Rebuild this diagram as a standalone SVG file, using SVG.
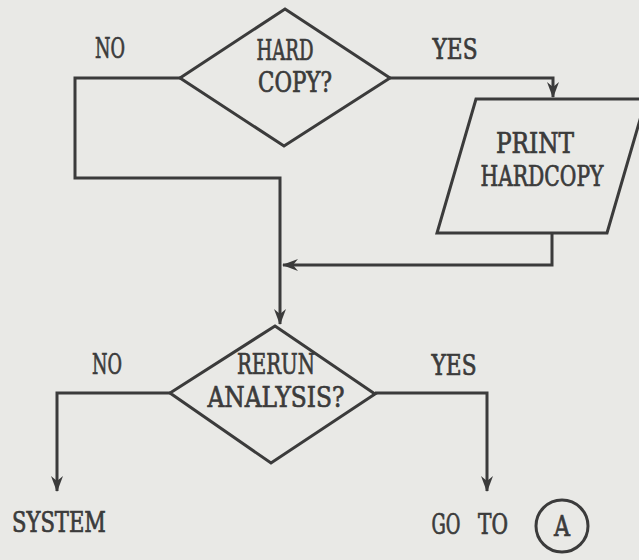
<svg xmlns="http://www.w3.org/2000/svg" width="639" height="560" viewBox="0 0 639 560">
<style>
.bg{fill:#e9e9e6}
.shape{fill:none;stroke:#3b3b3b;stroke-width:3;stroke-linejoin:miter}
.conn{fill:none;stroke:#3b3b3b;stroke-width:3}
text{font-family:"DejaVu Serif Condensed","DejaVu Serif","Liberation Serif",serif;font-stretch:condensed;font-size:28px;fill:#3b3b3b;stroke:#3b3b3b;stroke-width:0.7}
</style>
<defs>
<marker id="arr" viewBox="0 0 16 12" refX="15" refY="6" markerWidth="16" markerHeight="12" markerUnits="userSpaceOnUse" orient="auto">
<path d="M0,0 L16,6 L0,12 L5,6 Z" fill="#3b3b3b"/>
</marker>
</defs>
<rect class="bg" x="0" y="0" width="639" height="560"/>
<g id="connectors">
<path class="conn" d="M180,78 H75 V178 H280 V324" marker-end="url(#arr)"/>
<path class="conn" d="M390,78 H553 V97" marker-end="url(#arr)"/>
<path class="conn" d="M552,233 V265 H283" marker-end="url(#arr)"/>
<path class="conn" d="M170,393 H57 V491" marker-end="url(#arr)"/>
<path class="conn" d="M375,393 H487 V491" marker-end="url(#arr)"/>
</g>
<g id="hardcopy_decision">
<polygon class="shape" points="285,9 390,78 284,146 180,78"/>
<text x="285" y="60" text-anchor="middle" textLength="57" lengthAdjust="spacingAndGlyphs">HARD</text>
<text x="295" y="92" text-anchor="middle" textLength="74" lengthAdjust="spacingAndGlyphs">COPY?</text>
</g>
<g id="label_no_top"><text x="110" y="58" text-anchor="middle" textLength="30" lengthAdjust="spacingAndGlyphs">NO</text></g>
<g id="label_yes_top"><text x="455" y="59" text-anchor="middle" textLength="45" lengthAdjust="spacingAndGlyphs">YES</text></g>
<g id="print_hardcopy">
<polygon class="shape" points="476,99 646,99 607,233 437,233"/>
<text x="535" y="153" text-anchor="middle" textLength="78" lengthAdjust="spacingAndGlyphs">PRINT</text>
<text x="542" y="186" text-anchor="middle" textLength="123" lengthAdjust="spacingAndGlyphs">HARDCOPY</text>
</g>
<g id="rerun_decision">
<polygon class="shape" points="275,326 375,394 271,463 170,393"/>
<text x="276" y="374" text-anchor="middle" textLength="78" lengthAdjust="spacingAndGlyphs">RERUN</text>
<text x="276" y="407" text-anchor="middle" textLength="137" lengthAdjust="spacingAndGlyphs">ANALYSIS?</text>
</g>
<g id="label_no_bottom"><text x="107" y="374" text-anchor="middle" textLength="30" lengthAdjust="spacingAndGlyphs">NO</text></g>
<g id="label_yes_bottom"><text x="454" y="375" text-anchor="middle" textLength="45" lengthAdjust="spacingAndGlyphs">YES</text></g>
<g id="system">
<text x="59" y="532" text-anchor="middle" textLength="94" lengthAdjust="spacingAndGlyphs">SYSTEM</text>
</g>
<g id="goto_a">
<text x="446" y="534" text-anchor="middle" textLength="29" lengthAdjust="spacingAndGlyphs">GO</text>
<text x="493" y="534" text-anchor="middle" textLength="30" lengthAdjust="spacingAndGlyphs">TO</text>
<circle class="shape" cx="562" cy="526" r="26"/>
<text x="562" y="536" text-anchor="middle" textLength="16" lengthAdjust="spacingAndGlyphs">A</text>
</g>
</svg>
